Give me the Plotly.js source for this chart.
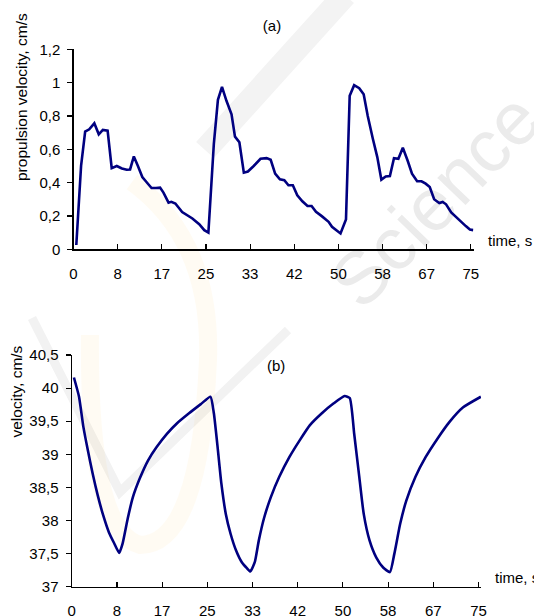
<!DOCTYPE html>
<html>
<head>
<meta charset="utf-8">
<script src="https://cdn.plot.ly/plotly-3.0.1.min.js"></script>
<style>
html,body{margin:0;padding:0;background:#fff;}
#wrap{position:relative;width:534px;height:616px;overflow:hidden;}
#bg{position:absolute;left:0;top:0;width:534px;height:616px;}
#wm{position:absolute;left:435px;top:200px;transform:translate(-50%,-50%) rotate(-46deg);
    font-family:Arial,"Liberation Sans",sans-serif;font-size:74px;color:#ebebeb;white-space:nowrap;}
#chart{position:absolute;left:0;top:0;width:534px;height:616px;}
</style>
</head>
<body>
<div id="wrap">
  <div id="bg"><div id="wm">Science</div></div>
  <div id="chart"></div>
</div>
<script>
// (a) propulsion velocity
var timeA = [0.53,1.43,2.20,2.97,3.93,4.77,5.54,6.44,7.21,8.17,9.14,10.04,10.68,11.39,12.16,12.99,13.77,14.73,15.56,16.34,16.98,17.94,18.46,19.23,20.51,21.67,22.44,23.73,24.69,25.46,26.49,27.26,28.03,28.87,29.83,30.48,31.31,32.15,32.92,34.01,35.30,36.45,37.22,38.06,38.96,39.79,40.57,41.40,42.24,43.20,44.17,44.94,45.77,46.86,48.15,48.79,49.76,50.40,51.43,52.13,52.97,53.93,54.77,55.54,56.50,57.34,58.11,58.94,59.72,60.49,61.32,62.16,63.06,63.89,64.86,65.69,66.47,67.24,68.07,69.04,69.68,70.32,71.29,72.25,73.21,74.05,74.82,75.45];
var propulsion = [0.026,0.50,0.706,0.72,0.756,0.69,0.716,0.712,0.487,0.50,0.485,0.477,0.479,0.557,0.50,0.434,0.404,0.368,0.368,0.37,0.34,0.28,0.285,0.275,0.223,0.199,0.185,0.151,0.115,0.10,0.633,0.897,0.975,0.891,0.81,0.676,0.642,0.46,0.467,0.50,0.543,0.547,0.537,0.454,0.42,0.415,0.384,0.384,0.324,0.288,0.26,0.26,0.225,0.199,0.165,0.135,0.111,0.095,0.179,0.921,0.985,0.967,0.93,0.80,0.663,0.553,0.418,0.437,0.44,0.547,0.543,0.609,0.533,0.454,0.408,0.408,0.394,0.374,0.30,0.278,0.284,0.27,0.221,0.191,0.165,0.139,0.119,0.115];

// (b) velocity
var timeB = [0.41,1.35,2.16,2.98,3.86,4.80,5.80,6.87,7.81,8.76,9.38,10.33,11.27,12.52,14.09,15.66,17.55,19.43,21.63,23.83,25.58,26.21,26.96,27.59,28.41,29.29,30.29,31.36,32.30,32.93,33.75,34.50,35.44,36.70,38.27,40.15,42.03,43.92,46.12,48.31,50.32,51.26,52.08,53.02,53.84,54.91,56.16,57.42,58.67,59.49,60.56,61.69,63.38,65.27,67.46,69.66,72.17,75.44];
var velocity = [40.16,39.87,39.41,39.06,38.71,38.38,38.08,37.82,37.66,37.51,37.65,38.03,38.35,38.63,38.91,39.11,39.31,39.47,39.62,39.76,39.87,39.62,39.06,38.56,38.10,37.80,37.55,37.37,37.28,37.23,37.37,37.70,38.03,38.35,38.66,38.96,39.21,39.44,39.62,39.77,39.88,39.85,39.31,38.66,38.10,37.70,37.44,37.29,37.22,37.50,37.95,38.30,38.66,38.96,39.24,39.49,39.71,39.87];

// x tick positions (every 75/9 s) and their printed labels
var xTickVals = [0,8.3333,16.6667,25,33.3333,41.6667,50,58.3333,66.6667,75];
var xTickText = ['0','8','17','25','33','42','50','58','67','75'];
var yTickValsA = [0,0.2,0.4,0.6,0.8,1,1.2];
var yTickTextA = ['0','0,2','0,4','0,6','0,8','1','1,2'];
var yTickValsB = [37,37.5,38,38.5,39,39.5,40,40.5];
var yTickTextB = ['37','37,5','38','38,5','39','39,5','40','40,5'];
var titleA = 'propulsion velocity, cm/s';
var titleB = 'velocity, cm/s';

var W = 534, H = 616;
function px(x){return x/W;}
function py(y){return (H-y)/H;}
// path in pixel coords -> paper coords
function pp(pts){
  return pts.map(function(p){
    return px(p[0]).toFixed(4)+','+py(p[1]).toFixed(4);
  }).join(' ');
}

var lineColor = '#000080';
var font = {family:'Arial, "Liberation Sans", sans-serif', size:15, color:'#000'};
var titleFont = {family:'Arial, "Liberation Sans", sans-serif', size:15.5, color:'#000'};

var traces = [
  {x: timeA, y: propulsion, type:'scatter', mode:'lines', xaxis:'x', yaxis:'y',
   line:{color:lineColor, width:2.6}, hoverinfo:'skip', showlegend:false},
  {x: timeB, y: velocity, type:'scatter', mode:'lines', xaxis:'x2', yaxis:'y2',
   line:{color:lineColor, width:2.6, shape:'spline', smoothing:0.5}, hoverinfo:'skip', showlegend:false}
];

function xAxis(domain, range, anchor){
  return {domain:domain, range:range, anchor:anchor, showgrid:false, zeroline:false,
    showline:true, linecolor:'#000', linewidth:1.2, ticks:'inside', ticklen:5, tickwidth:1.2,
    tickcolor:'#000', tickmode:'array', tickvals:xTickVals, ticktext:xTickText,
    tickfont:font, ticklabelstandoff:10, fixedrange:true};
}
function yAxis(domain, range, anchor, vals, text){
  return {domain:domain, range:range, anchor:anchor, showgrid:false, zeroline:false,
    showline:true, linecolor:'#000', linewidth:1.2, ticks:'outside', ticklen:5, tickwidth:1.2,
    tickcolor:'#000', tickmode:'array', tickvals:vals, ticktext:text, tickfont:font,
    ticklabelstandoff:4, automargin:false, fixedrange:true};
}

var layout = {
  width:W, height:H, margin:{l:0,r:0,t:0,b:0}, paper_bgcolor:'rgba(0,0,0,0)', plot_bgcolor:'rgba(0,0,0,0)',
  font:font, showlegend:false,
  title:{text:'(a)', font:font, x:px(272), y:py(26), xanchor:'center', yanchor:'middle', xref:'paper', yref:'paper'},
  xaxis: xAxis([px(73.5), px(473.5)], [0, 75.5], 'y'),
  yaxis: yAxis([py(249.3), py(49.3)], [0, 1.2], 'x', yTickValsA, yTickTextA),
  xaxis2: xAxis([px(71.7), px(481)], [0, 75.46], 'y2'),
  yaxis2: yAxis([py(586.7), py(355)], [37, 40.5], 'x2', yTickValsB, yTickTextB),
  shapes:[
    // faint watermark (background decoration)
    {type:'path', layer:'below', xref:'paper', yref:'paper',
     path:'M '+pp([[345,-5]])+' L '+pp([[205,150]]),
     line:{color:'#f3f3f3', width:24}},
    {type:'path', layer:'below', xref:'paper', yref:'paper',
     path:'M '+pp([[32,318]])+' L '+pp([[120,492]])+' L '+pp([[288,330]]),
     line:{color:'#f2f2f2', width:9}},
    {type:'path', layer:'below', xref:'paper', yref:'paper',
     path:'M '+pp([[132,182]])+' Q '+pp([[212,240]])+' '+pp([[208,360]])+' Q '+pp([[200,545]])+' '+pp([[140,545]])+' Q '+pp([[88,530]])+' '+pp([[90,335]]),
     line:{color:'rgba(252,196,90,0.07)', width:18}}
  ],
  annotations:[
    {text:titleA, xref:'paper', yref:'paper', x:px(22), y:py(97), xanchor:'center', yanchor:'middle', textangle:-90, showarrow:false, font:titleFont},
    {text:titleB, xref:'paper', yref:'paper', x:px(16), y:py(391.5), xanchor:'center', yanchor:'middle', textangle:-90, showarrow:false, font:titleFont},
    {text:'(b)', xref:'paper', yref:'paper', x:px(276), y:py(366), xanchor:'center', yanchor:'middle', showarrow:false, font:font},
    {text:'time, s', xref:'paper', yref:'paper', x:px(486), y:py(240), xanchor:'left', yanchor:'middle', showarrow:false, font:font},
    {text:'time, s', xref:'paper', yref:'paper', x:px(493), y:py(577.5), xanchor:'left', yanchor:'middle', showarrow:false, font:font}
  ]
};

Plotly.newPlot('chart', traces, layout, {staticPlot:true, displayModeBar:false});
</script>
</body>
</html>
